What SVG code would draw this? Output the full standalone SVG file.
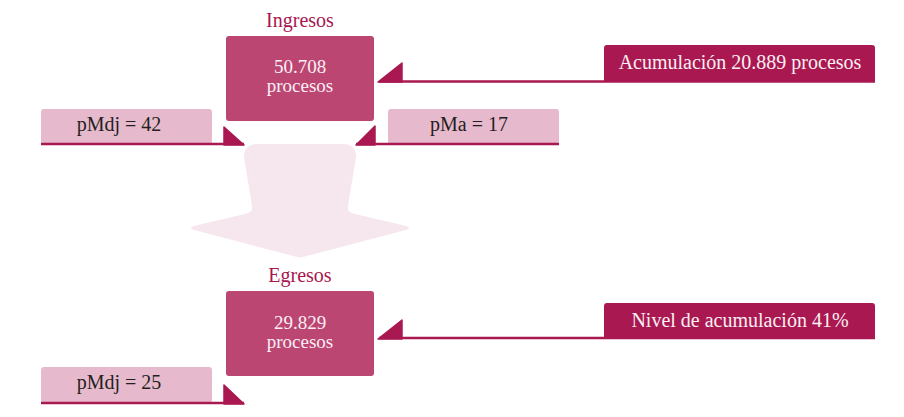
<svg xmlns="http://www.w3.org/2000/svg" width="904" height="417" viewBox="0 0 904 417">
<style>
text{font-family:"Liberation Serif","Times New Roman",serif;font-size:20px;}
.title{fill:#A8174F;text-anchor:middle;}
.main{fill:#BC4672;}
.mtext{fill:#FBEFF4;text-anchor:middle;font-size:19px;}
.light{fill:#E7B9CC;}
.ltext{fill:#231F20;text-anchor:middle;}
.dark{fill:#A91850;}
.dtext{fill:#FBEFF4;text-anchor:middle;}
.ln{stroke:#A91850;stroke-width:2.6;fill:none;}
.tri{fill:#A91850;stroke:#A91850;stroke-width:1.5;stroke-linejoin:round;}
</style>
<g id="flow-arrow">
<path d="M258 144 L343 144 Q356 144 356 157 L348 206 Q347 212 353 213.5 L406 226 Q412 228 406 230 L303 257 Q300 258 297 257 L194 230 Q188 228 194 226 L247 213.5 Q253 212 252 206 L244 157 Q244 144 258 144 Z" fill="#F6E7EE"/>
</g>
<g id="ingresos">
<text class="title" x="300" y="27">Ingresos</text>
<rect class="main" x="226" y="36" width="148" height="85" rx="3"/>
<text class="mtext" x="300" y="73">50.708</text>
<text class="mtext" x="300" y="92">procesos</text>
</g>
<g id="egresos">
<text class="title" x="300" y="282">Egresos</text>
<rect class="main" x="226" y="291" width="148" height="85" rx="3"/>
<text class="mtext" x="300" y="329">29.829</text>
<text class="mtext" x="300" y="348">procesos</text>
</g>
<g id="acumulacion">
<path class="dark" d="M604 82 L604 48 Q604 45 607 45 L872 45 Q875 45 875 48 L875 82 Z"/>
<text class="dtext" x="740" y="69">Acumulación 20.889 procesos</text>
</g>
<g id="nivel">
<path class="dark" d="M604 338 L604 306 Q604 303 607 303 L872 303 Q875 303 875 306 L875 338 Z"/>
<text class="dtext" x="740" y="327">Nivel de acumulación 41%</text>
</g>
<g id="pmdj42">
<rect class="light" x="41" y="109" width="171" height="35" rx="3"/>
<text class="ltext" x="119" y="131">pMdj = 42</text>
</g>
<g id="pma17">
<rect class="light" x="388" y="109" width="171" height="35" rx="3"/>
<text class="ltext" x="469" y="131">pMa = 17</text>
</g>
<g id="pmdj25">
<rect class="light" x="41" y="367" width="171" height="36" rx="3"/>
<text class="ltext" x="119" y="389">pMdj = 25</text>
</g>
<g id="connectors">
<line class="ln" x1="379" y1="81.5" x2="875" y2="81.5"/>
<path class="tri" d="M402 63 L402 82 L378 82 Z"/>
<line class="ln" x1="379" y1="338" x2="875" y2="338"/>
<path class="tri" d="M402 320 L402 339 L378 339 Z"/>
<line class="ln" x1="41" y1="144" x2="244" y2="144"/>
<path class="tri" d="M224 127 L224 145 L244 145 Z"/>
<line class="ln" x1="356" y1="144" x2="559" y2="144"/>
<path class="tri" d="M375 126 L375 145 L356 145 Z"/>
<line class="ln" x1="41" y1="403" x2="244" y2="403"/>
<path class="tri" d="M224 385 L224 404 L244 404 Z"/>
</g>
</svg>
